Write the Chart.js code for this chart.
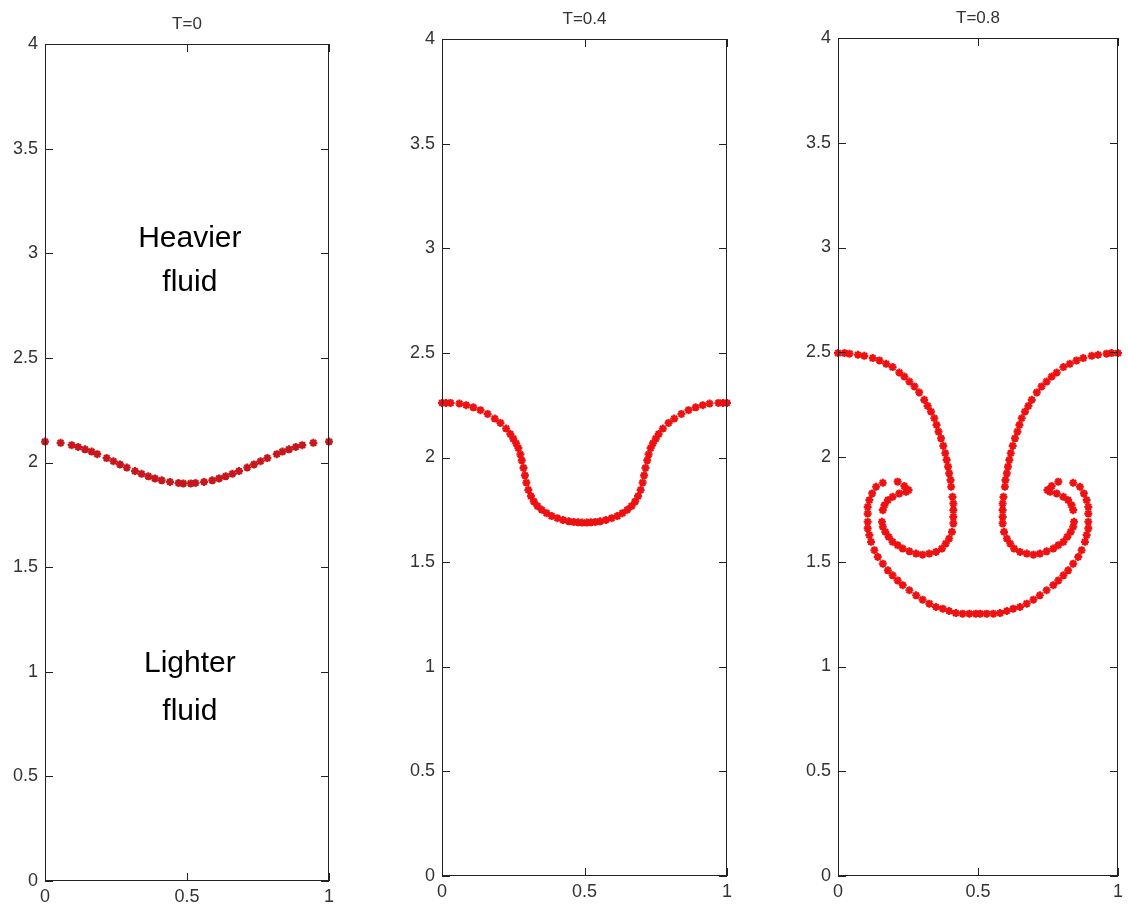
<!DOCTYPE html>
<html lang="en">

<head>
    <meta charset="UTF-8">
    <title>Rayleigh-Taylor interface</title>
    <script src="https://cdn.jsdelivr.net/npm/chart.js"></script>
    <style>
        body {
            margin: 0;
            background: #fff;
        }

        #wrap {
            position: relative;
            width: 1128px;
            height: 908px;
        }

        canvas {
            position: absolute;
            left: 0;
            top: 0;
        }
    </style>
</head>

<body>
    <div id="wrap">
        <canvas id="c0" width="1128" height="908"></canvas>
        <canvas id="c1" width="1128" height="908"></canvas>
        <canvas id="c2" width="1128" height="908"></canvas>
    </div>

    <script>
        // data
        const titles = ['T=0', 'T=0.4', 'T=0.8'];
        const xTicks = [0, 0.5, 1];
        const yTicks = [0, 0.5, 1, 1.5, 2, 2.5, 3, 3.5, 4];

        // T=0
        const t0Left = [[0.000, 2.100], [0.055, 2.094], [0.094, 2.083], [0.117, 2.074], [0.141, 2.063], [0.164, 2.052], [0.184, 2.040], [0.217, 2.021], [0.241, 2.006], [0.264, 1.991], [0.288, 1.976], [0.317, 1.959], [0.340, 1.946], [0.364, 1.934], [0.387, 1.924], [0.411, 1.915], [0.440, 1.907], [0.470, 1.902], [0.487, 1.900]];
        const t0Right = [[0.513, 1.900], [0.530, 1.902], [0.560, 1.907], [0.589, 1.915], [0.613, 1.924], [0.636, 1.934], [0.660, 1.946], [0.683, 1.959], [0.712, 1.976], [0.736, 1.991], [0.759, 2.006], [0.783, 2.021], [0.816, 2.040], [0.836, 2.052], [0.859, 2.063], [0.883, 2.074], [0.906, 2.083], [0.945, 2.094], [1.000, 2.100]];

        // T=0.4
        const t4Left = [[0.000, 2.261], [0.014, 2.261], [0.030, 2.261], [0.061, 2.258], [0.085, 2.250], [0.110, 2.240], [0.135, 2.226], [0.160, 2.208], [0.185, 2.186], [0.205, 2.165], [0.225, 2.138], [0.240, 2.112], [0.250, 2.090], [0.260, 2.068], [0.268, 2.045], [0.275, 2.015], [0.280, 1.986], [0.286, 1.950], [0.291, 1.915], [0.296, 1.880], [0.303, 1.845], [0.312, 1.815], [0.322, 1.790], [0.335, 1.768], [0.350, 1.750], [0.367, 1.734], [0.385, 1.720], [0.405, 1.710], [0.425, 1.701], [0.445, 1.695], [0.462, 1.692], [0.478, 1.690], [0.492, 1.689]];
        const t4Right = [[0.508, 1.689], [0.522, 1.690], [0.538, 1.692], [0.555, 1.695], [0.575, 1.701], [0.595, 1.710], [0.615, 1.720], [0.633, 1.734], [0.650, 1.750], [0.665, 1.768], [0.678, 1.790], [0.688, 1.815], [0.697, 1.845], [0.704, 1.880], [0.709, 1.915], [0.714, 1.950], [0.720, 1.986], [0.725, 2.015], [0.732, 2.045], [0.740, 2.068], [0.750, 2.090], [0.760, 2.112], [0.775, 2.138], [0.795, 2.165], [0.815, 2.186], [0.840, 2.208], [0.865, 2.226], [0.890, 2.240], [0.915, 2.250], [0.939, 2.258], [0.970, 2.261], [0.986, 2.261], [1.000, 2.261]];

        // T=0.8
        const t8Left = [[0.000, 2.496], [0.023, 2.496], [0.041, 2.493], [0.071, 2.488], [0.094, 2.483], [0.124, 2.472], [0.148, 2.461], [0.172, 2.445], [0.195, 2.429], [0.219, 2.403], [0.237, 2.384], [0.255, 2.360], [0.273, 2.337], [0.290, 2.308], [0.308, 2.273], [0.320, 2.244], [0.332, 2.217], [0.344, 2.185], [0.352, 2.153], [0.359, 2.121], [0.368, 2.089], [0.376, 2.053], [0.383, 2.018], [0.388, 1.986], [0.393, 1.954], [0.397, 1.922], [0.402, 1.890], [0.404, 1.858], [0.409, 1.810], [0.412, 1.778], [0.412, 1.746], [0.412, 1.714], [0.412, 1.683], [0.407, 1.643], [0.397, 1.611], [0.385, 1.587], [0.371, 1.563], [0.350, 1.547], [0.326, 1.539], [0.302, 1.534], [0.279, 1.539], [0.255, 1.550], [0.231, 1.563], [0.213, 1.579], [0.195, 1.595], [0.181, 1.619], [0.169, 1.643], [0.160, 1.667], [0.157, 1.691],
            [0.160, 1.746], [0.166, 1.770], [0.178, 1.794], [0.195, 1.810], [0.219, 1.826], [0.243, 1.834], [0.252, 1.842], [0.237, 1.861], [0.213, 1.882],
            [0.160, 1.877], [0.136, 1.858], [0.122, 1.826], [0.112, 1.794], [0.106, 1.762], [0.106, 1.730], [0.106, 1.691], [0.106, 1.659], [0.112, 1.627], [0.118, 1.595], [0.130, 1.555], [0.142, 1.523], [0.160, 1.491], [0.178, 1.459], [0.195, 1.435], [0.213, 1.411], [0.231, 1.388], [0.255, 1.364], [0.279, 1.340], [0.302, 1.319], [0.326, 1.300], [0.350, 1.284], [0.374, 1.276], [0.397, 1.265], [0.421, 1.255], [0.445, 1.252], [0.469, 1.252], [0.492, 1.252]];
        const t8Right = [[1.000, 2.496], [0.977, 2.496], [0.959, 2.493], [0.929, 2.488], [0.906, 2.483], [0.876, 2.472], [0.852, 2.461], [0.828, 2.445], [0.805, 2.429], [0.781, 2.403], [0.763, 2.384], [0.745, 2.360], [0.727, 2.337], [0.710, 2.308], [0.692, 2.273], [0.680, 2.244], [0.668, 2.217], [0.656, 2.185], [0.648, 2.153], [0.641, 2.121], [0.632, 2.089], [0.624, 2.053], [0.617, 2.018], [0.612, 1.986], [0.607, 1.954], [0.603, 1.922], [0.598, 1.890], [0.596, 1.858], [0.591, 1.810], [0.588, 1.778], [0.588, 1.746], [0.588, 1.714], [0.588, 1.683], [0.593, 1.643], [0.603, 1.611], [0.615, 1.587], [0.629, 1.563], [0.650, 1.547], [0.674, 1.539], [0.698, 1.534], [0.721, 1.539], [0.745, 1.550], [0.769, 1.563], [0.787, 1.579], [0.805, 1.595], [0.819, 1.619], [0.831, 1.643], [0.840, 1.667], [0.843, 1.691],
            [0.840, 1.746], [0.834, 1.770], [0.822, 1.794], [0.805, 1.810], [0.781, 1.826], [0.757, 1.834], [0.748, 1.842], [0.763, 1.861], [0.787, 1.882],
            [0.840, 1.877], [0.864, 1.858], [0.878, 1.826], [0.888, 1.794], [0.894, 1.762], [0.894, 1.730], [0.894, 1.691], [0.894, 1.659], [0.888, 1.627], [0.882, 1.595], [0.870, 1.555], [0.858, 1.523], [0.840, 1.491], [0.822, 1.459], [0.805, 1.435], [0.787, 1.411], [0.769, 1.388], [0.745, 1.364], [0.721, 1.340], [0.698, 1.319], [0.674, 1.300], [0.650, 1.284], [0.626, 1.276], [0.603, 1.265], [0.579, 1.255], [0.555, 1.252], [0.531, 1.252], [0.508, 1.252]];

        // text in the first panel
        const notes = [
            { text: 'Heavier', x: 0.51, y: 3.03 },
            { text: 'fluid', x: 0.51, y: 2.82 },
            { text: 'Lighter', x: 0.51, y: 1.00 },
            { text: 'fluid', x: 0.51, y: 0.77 }
        ];

        const series = [t0Left.concat(t0Right), t4Left.concat(t4Right), t8Left.concat(t8Right)];
        const colors = ['#c8161d', '#ee1111', '#ee1111'];

        // plot boxes on the page
        const boxes = [
            { left: 45, right: 329, top: 44, bottom: 881 },
            { left: 442, right: 727, top: 39, bottom: 876 },
            { left: 838, right: 1119, top: 38, bottom: 876 }
        ];

        const FONT = "'Liberation Sans', Arial, sans-serif";
        const TICK_LEN = 8;

        // MATLAB style box with inward ticks, title and notes
        const boxPlugin = {
            id: 'matlabBox',
            afterDraw(chart, args, opts) {
                const ctx = chart.ctx;
                const a = chart.chartArea;
                const xs = chart.scales.x;
                const ys = chart.scales.y;
                ctx.save();
                ctx.strokeStyle = '#222';
                ctx.lineWidth = 1;
                ctx.strokeRect(a.left + 0.5, a.top + 0.5, a.right - a.left - 1, a.bottom - a.top - 1);
                ctx.beginPath();
                yTicks.forEach(v => {
                    const py = Math.round(ys.getPixelForValue(v)) + 0.5;
                    ctx.moveTo(a.left, py); ctx.lineTo(a.left + TICK_LEN, py);
                    ctx.moveTo(a.right, py); ctx.lineTo(a.right - TICK_LEN, py);
                });
                xTicks.forEach(v => {
                    const px = Math.round(xs.getPixelForValue(v)) + 0.5;
                    ctx.moveTo(px, a.bottom); ctx.lineTo(px, a.bottom - TICK_LEN);
                    ctx.moveTo(px, a.top); ctx.lineTo(px, a.top + TICK_LEN);
                });
                ctx.stroke();

                ctx.fillStyle = '#333';
                ctx.font = '17px ' + FONT;
                ctx.textAlign = 'center';
                ctx.textBaseline = 'middle';
                ctx.fillText(opts.title, (a.left + a.right) / 2, a.top - 20);

                if (opts.notes) {
                    ctx.fillStyle = '#000';
                    ctx.font = '30px ' + FONT;
                    ctx.textBaseline = 'alphabetic';
                    opts.notes.forEach(n => {
                        ctx.fillText(n.text, xs.getPixelForValue(n.x), ys.getPixelForValue(n.y));
                    });
                }
                ctx.restore();
            }
        };

        series.forEach((pts, i) => {
            const b = boxes[i];
            new Chart(document.getElementById('c' + i), {
                type: 'scatter',
                data: {
                    datasets: [{
                        data: pts.map(p => ({ x: p[0], y: p[1] })),
                        pointStyle: 'star',
                        radius: 4,
                        borderWidth: 2.2,
                        borderColor: colors[i],
                        backgroundColor: colors[i],
                        clip: false
                    }]
                },
                options: {
                    responsive: false,
                    animation: false,
                    events: [],
                    layout: {
                        padding: { left: b.left - 40, right: 1128 - b.right, top: b.top, bottom: 0 }
                    },
                    plugins: {
                        legend: { display: false },
                        tooltip: { enabled: false },
                        matlabBox: { title: titles[i], notes: i === 0 ? notes : null }
                    },
                    scales: {
                        x: {
                            type: 'linear',
                            min: 0,
                            max: 1,
                            grid: { display: false, drawTicks: false },
                            border: { display: false },
                            afterBuildTicks: s => { s.ticks = xTicks.map(v => ({ value: v })); },
                            afterFit: s => { s.height = 908 - b.bottom; },
                            ticks: {
                                padding: 5,
                                color: '#333',
                                maxRotation: 0,
                                autoSkip: false,
                                font: { family: FONT, size: 18 },
                                callback: v => String(v)
                            }
                        },
                        y: {
                            type: 'linear',
                            min: 0,
                            max: 4,
                            grid: { display: false, drawTicks: false },
                            border: { display: false },
                            afterBuildTicks: s => { s.ticks = yTicks.map(v => ({ value: v })); },
                            afterFit: s => { s.width = 40; },
                            ticks: {
                                padding: 7,
                                color: '#333',
                                autoSkip: false,
                                font: { family: FONT, size: 18 },
                                callback: v => String(v)
                            }
                        }
                    }
                },
                plugins: [boxPlugin]
            });
        });
    </script>

</body>

</html>
